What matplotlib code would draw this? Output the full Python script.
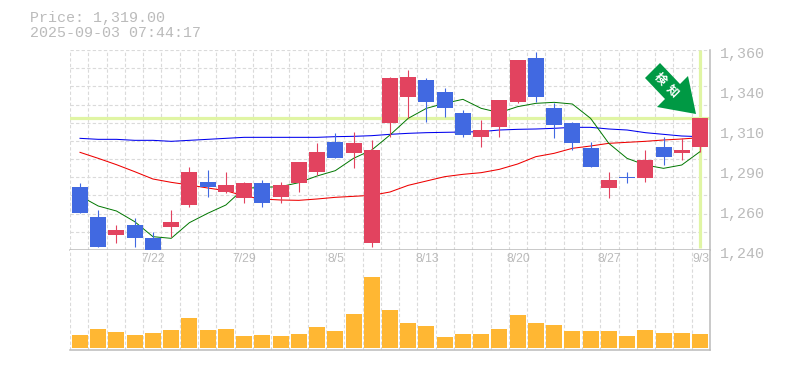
"""Candlestick chart with moving averages and a volume panel."""
import matplotlib
matplotlib.use("Agg")
import matplotlib.pyplot as plt
from matplotlib.patches import Polygon, Rectangle

W, H = 785, 370
COLOR_UP = "#E2435F"
COLOR_DOWN = "#4169E1"
COLOR_VOL = "#FFB733"
COLOR_GRID = "#DADADA"
COLOR_AXIS = "#BBBBBB"
COLOR_MARK = "#E0F5A4"
COLOR_TEXT = "#BBBBBB"
COLOR_ARROW = "#009944"

opens = [1278, 1260, 1249, 1255, 1247, 1254, 1267, 1281, 1275, 1271, 1280, 1272,
         1280, 1287, 1305, 1298, 1244, 1316, 1332, 1342, 1335, 1322, 1308, 1314,
         1329, 1355, 1325, 1316, 1301, 1277, 1284, 1283, 1302, 1298, 1302]
highs = [1280, 1264, 1255, 1259, 1251, 1264, 1290, 1288, 1287, 1281, 1282, 1281,
         1293, 1304, 1310, 1311, 1306, 1344, 1348, 1343, 1337, 1324, 1318, 1330,
         1354, 1359, 1328, 1317, 1305, 1287, 1287, 1300, 1308, 1307, 1319]
lows = [1262, 1242, 1244, 1242, 1237, 1248, 1266, 1272, 1274, 1268, 1266, 1268,
        1275, 1285, 1295, 1289, 1242, 1308, 1319, 1317, 1320, 1308, 1302, 1308,
        1328, 1329, 1307, 1300, 1290, 1271, 1280, 1281, 1291, 1294, 1299]
closes = [1262, 1242, 1252, 1247, 1237, 1257, 1287, 1278, 1279, 1280, 1268, 1279,
          1293, 1299, 1295, 1304, 1300, 1343, 1344, 1329, 1325, 1309, 1312, 1330,
          1354, 1332, 1315, 1304, 1290, 1282, 1283, 1294, 1296, 1300, 1319]
ma_green = [1272.4, 1266.4, 1263.4, 1257, 1248, 1247, 1256.4, 1262, 1267, 1277, 1277.6, 1278,
            1280.4, 1284.4, 1287.6, 1295, 1300, 1309, 1319, 1325, 1328, 1330.4, 1325, 1322.4,
            1326, 1328, 1328.6, 1327.6, 1319, 1304, 1295, 1291, 1289, 1291, 1299]
ma_red = [1298.6, 1295, 1291.2, 1287, 1282.6, 1280.6, 1279, 1277.2, 1275.6, 1272.4, 1270.6, 1270,
          1269.8, 1270.6, 1271.6, 1272.2, 1272.8, 1274.8, 1278.8, 1281.4, 1284, 1285.4, 1286.4, 1288.4,
          1291.6, 1296, 1298, 1301, 1302.4, 1304, 1304.6, 1305.2, 1306, 1306.6, 1307.4]
ma_blue = [1307, 1306.4, 1306.4, 1305.8, 1305.8, 1305.2, 1305.8, 1306.4, 1307, 1307.6, 1307.6, 1307.6,
           1307.6, 1307.6, 1308, 1308.2, 1308.6, 1309.4, 1310, 1310.4, 1310.6, 1310.8, 1311, 1312,
           1312.4, 1312.6, 1313, 1313.6, 1313.6, 1312.6, 1312, 1310.4, 1309.4, 1308.4, 1308]
volumes = [13, 19, 16, 13, 15, 18, 30, 18, 19, 12, 13, 12, 14, 21, 17, 34, 71, 38,
           25, 22, 11, 14, 14, 19, 33, 25, 23, 17, 17, 17, 12, 18, 15, 15, 14]
date_idx = [4, 9, 14, 19, 24, 29, 34]
date_labels = ["7/22", "7/29", "8/5", "8/13", "8/20", "8/27", "9/3"]
price_ticks = [1360, 1336, 1312, 1288, 1264, 1240]
price_labels = ["1,360", "1,340", "1,310", "1,290", "1,260", "1,240"]
last_price = 1319

fig = plt.figure(figsize=(W / 100, H / 100), dpi=100)
# axes rectangles are given in pixels of the 785x370 frame
ax = fig.add_axes([70 / W, (H - 250) / H, 640 / W, 200 / H])
ax_v = fig.add_axes([70 / W, (H - 350) / H, 640 / W, 100 / H])

x = list(range(len(closes)))
XMIN, XMAX = -0.548, 34.55
STEP = (XMAX - XMIN) / 35
DASH = (0, (3, 2))

for a in (ax, ax_v):
    a.set_xlim(XMIN, XMAX)
    a.set_xticks([XMIN + STEP * k for k in range(36)], minor=True)
    a.tick_params(which="both", length=0)
    a.grid(True, which="minor", axis="x", color=COLOR_GRID, ls=DASH, lw=0.8)
    a.set_axisbelow(True)
    for s in ("top", "left"):
        a.spines[s].set_visible(False)
    for s in ("bottom", "right"):
        a.spines[s].set_color(COLOR_AXIS)
        a.spines[s].set_linewidth(1.1)

# price panel
ax.set_ylim(1240, 1360)
ax.set_yticks([1360 - 120 / 11 * k for k in range(12)], minor=True)
ax.grid(True, which="minor", axis="y", color=COLOR_GRID, ls=DASH, lw=0.8)
ax.set_yticks([])
ax.set_xticks([])

ax.axhline(last_price, color=COLOR_MARK, lw=2.3, zorder=1.5)
ax.plot([x[-1], x[-1]], [1241, 1360], color=COLOR_MARK, lw=2.3, zorder=1.5, solid_capstyle="butt")

ax.plot(x, ma_blue, color="#0000EE", lw=0.75, zorder=2)
ax.plot(x, ma_red, color="#EE0000", lw=0.75, zorder=2)
ax.plot(x, ma_green, color="#007700", lw=0.7, zorder=2)

BODY = 16 / 18.235
for i in x:
    up = closes[i] >= opens[i]
    col = COLOR_UP if up else COLOR_DOWN
    ax.plot([i, i], [lows[i], highs[i]], color=col, lw=0.8, zorder=3,
            solid_capstyle="butt", clip_on=False)
    ax.add_patch(Rectangle((i - BODY / 2, min(opens[i], closes[i])), BODY,
                           abs(closes[i] - opens[i]), fc=col, ec="none", zorder=4, clip_on=False))

# volume panel
ax_v.set_ylim(-2, 98)
ax_v.set_yticks([])
ax_v.bar(x, volumes, width=BODY, color=COLOR_VOL, zorder=3)
ax_v.set_xticks(date_idx)
ax_v.set_xticklabels([])
for i, lab in zip(date_idx, date_labels):
    ax_v.text(i + 0.03, 88.5, lab, ha="center", va="center", fontsize=8.8,
              family="Liberation Sans", color=COLOR_TEXT)

# right-hand price labels
for p, lab in zip(price_ticks, price_labels):
    ax.text(34.55 + 0.55, p - 2.4, lab, ha="left", va="center", fontsize=10.8,
            family="Liberation Mono", color=COLOR_TEXT, clip_on=False)

# header
fig.text(30 / W, 1 - 18 / H, "Price: 1,319.00", ha="left", va="center", fontsize=10.8,
         family="Liberation Mono", color=COLOR_TEXT)
fig.text(30 / W, 1 - 33 / H, "2025-09-03 07:44:17", ha="left", va="center", fontsize=10.8,
         family="Liberation Mono", color=COLOR_TEXT)

# signal arrow, placed in frame pixels
arrow_px = [(660, 63), (645, 78), (665, 99), (657, 107), (696, 114), (688, 76), (680, 84)]
fig.add_artist(Polygon([(px / W, 1 - py / H) for px, py in arrow_px], closed=True,
                       transform=fig.transFigure, fc=COLOR_ARROW, ec="none", zorder=6))
fig.text(660 / W, 1 - 79 / H, "検", rotation=-45, ha="center", va="center", fontsize=8.6,
         fontweight="bold", family="Noto Sans CJK JP", color="white", zorder=7)
fig.text(672 / W, 1 - 91 / H, "知", rotation=-45, ha="center", va="center", fontsize=8.6,
         fontweight="bold", family="Noto Sans CJK JP", color="white", zorder=7)

fig.savefig("out.png", dpi=100)
